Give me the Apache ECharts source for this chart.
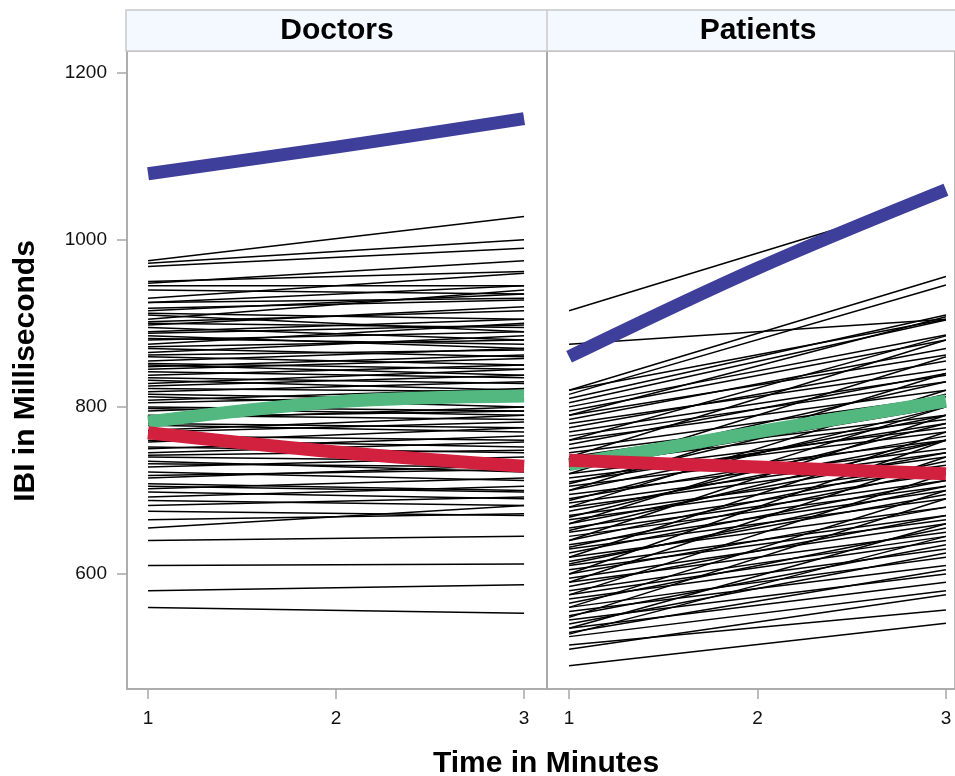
<!DOCTYPE html>
<html>
<head>
<meta charset="utf-8">
<script src="https://cdn.jsdelivr.net/npm/echarts@6/dist/echarts.min.js"></script>
<style>html,body{margin:0;padding:0;background:#fff;}#c{width:955px;height:776px;}</style>
</head>
<body>
<div id="c"></div>
<script>
// ---- Data ----
const timePoints = [1, 2, 3];
const panelNames = ['Doctors', 'Patients'];
const yTicks = [600, 800, 1000, 1200];

// Individual trajectories (IBI at minute 1 and minute 3)
const doctorsT1 = [975,972,968,950,948,945,940,930,925,918,912,905,900,898,895,890,885,880,875,870,865,860,855,850,848,842,838,832,828,822,818,812,808,800,795,790,785,778,772,765,758,752,745,740,735,728,722,715,708,702,698,692,688,682,675,665,655,640,610,580,560,
  925,915,910,902,888,882,872,862,852,845,835,825,815,805,798,788,780,770,760,750,742,732,718,705];
const doctorsT3 = [1028,1000,990,962,975,945,935,960,930,928,905,940,895,920,880,905,870,890,900,860,885,850,870,838,862,835,850,820,845,818,830,800,822,795,810,785,800,770,790,760,775,745,758,735,722,740,712,730,700,715,690,705,682,692,670,672,682,645,612,587,553,
  945,935,890,915,898,875,880,868,845,858,828,838,808,815,790,795,775,782,752,765,748,728,725,698];
const patientsT1 = [915,875,820,815,810,805,800,795,790,785,780,775,770,765,760,755,750,745,740,735,730,725,720,715,710,705,700,695,690,685,680,675,670,665,660,655,650,645,640,635,630,625,620,615,610,605,600,595,590,585,580,575,570,565,560,555,550,545,540,535,530,525,515,510,490,
  820,790,760,740,720,700,680,660,640,620,600,590,575,560,548,535,528,612,632,652,668,688,708,728];
const patientsT3 = [1053,905,956,946,910,904,886,880,862,870,845,855,838,830,820,840,812,800,805,790,785,800,775,770,780,760,790,750,765,745,740,760,730,725,745,720,712,705,735,700,690,712,680,695,670,665,680,660,650,670,645,640,630,655,620,610,635,600,625,590,605,580,557,575,541,
  905,908,885,880,860,840,820,800,790,770,760,740,720,700,690,660,645,705,725,760,780,800,815,830];

// Group trajectories (minutes 1, 2, 3)
const doctorsBlue  = [1079, 1111, 1145];
const doctorsGreen = [782, 806, 813];
const doctorsRed   = [769, 746, 729];
const patientsBlue  = [860, 966, 1060];
const patientsGreen = [731, 770, 807];
const patientsRed   = [736, 728, 720];

// ---- Build ----
const FONT = 'Liberation Sans, Arial, sans-serif';
const series = [];
function addIndividuals(t1, t3, idx) {
  for (let i = 0; i < t1.length; i++) {
    series.push({
      type: 'line', xAxisIndex: idx, yAxisIndex: idx, symbol: 'none', silent: true,
      lineStyle: { color: '#000', width: 1.5 },
      data: [[timePoints[0], t1[i]], [timePoints[2], t3[i]]]
    });
  }
}
function addGroup(vals, color, idx) {
  series.push({
    type: 'line', xAxisIndex: idx, yAxisIndex: idx, symbol: 'none', silent: true, smooth: 0.35,
    lineStyle: { color: color, width: 13, cap: 'butt' },
    data: timePoints.map((t, k) => [t, vals[k]])
  });
}
addIndividuals(doctorsT1, doctorsT3, 0);
addIndividuals(patientsT1, patientsT3, 1);
addGroup(doctorsGreen, '#52b87f', 0);
addGroup(doctorsRed, '#d2203f', 0);
addGroup(doctorsBlue, '#3d3f9a', 0);
addGroup(patientsGreen, '#52b87f', 1);
addGroup(patientsRed, '#d2203f', 1);
addGroup(patientsBlue, '#3d3f9a', 1);

const axisGray = '#a8a8a8';
function xAxis(idx, min, max) {
  return {
    type: 'value', gridIndex: idx, min: min, max: max,
    axisLine: { show: true, lineStyle: { color: axisGray, width: 1.5 } },
    axisTick: { show: true, length: 10, lineStyle: { color: axisGray, width: 1.5 }, customValues: timePoints },
    axisLabel: { fontFamily: FONT, fontSize: 19, color: '#111', margin: 20, customValues: timePoints, formatter: v => String(v) },
    splitLine: { show: false }
  };
}
function yAxis(idx, showLabels) {
  return {
    type: 'value', gridIndex: idx, min: 462.3, max: 1226,
    axisLine: { show: true, lineStyle: { color: axisGray, width: 1.5 } },
    axisTick: { show: showLabels, length: 10, lineStyle: { color: axisGray, width: 1.5 }, customValues: yTicks },
    axisLabel: { show: showLabels, fontFamily: FONT, fontSize: 19, color: '#111', margin: 20, customValues: yTicks, formatter: v => String(v) },
    splitLine: { show: false }
  };
}

const option = {
  animation: false,
  backgroundColor: '#fff',
  grid: [
    { left: 127, top: 51, width: 420, height: 638, show: true, borderColor: axisGray, borderWidth: 1.5 },
    { left: 547, top: 51, width: 408, height: 638, show: true, borderColor: axisGray, borderWidth: 1.5 }
  ],
  xAxis: [xAxis(0, 0.888, 3.122), xAxis(1, 0.883, 3.048)],
  yAxis: [yAxis(0, true), yAxis(1, false)],
  series: series,
  graphic: [
    { type: 'rect', shape: { x: 126, y: 10, width: 840, height: 41 }, style: { fill: '#f3f9fe', stroke: '#c8c8c8', lineWidth: 1.5 }, z: 10 },
    { type: 'line', shape: { x1: 547, y1: 10, x2: 547, y2: 51 }, style: { stroke: '#c8c8c8', lineWidth: 1.5 }, z: 11 },
    { type: 'text', x: 337, y: 31, style: { text: panelNames[0], font: 'bold 30px ' + FONT, fill: '#000', textAlign: 'center', textVerticalAlign: 'middle' }, z: 12 },
    { type: 'text', x: 758, y: 31, style: { text: panelNames[1], font: 'bold 30px ' + FONT, fill: '#000', textAlign: 'center', textVerticalAlign: 'middle' }, z: 12 },
    { type: 'text', x: 546, y: 764, style: { text: 'Time in Minutes', font: 'bold 30px ' + FONT, fill: '#000', textAlign: 'center', textVerticalAlign: 'middle' }, z: 12 },
    { type: 'text', x: 26, y: 371, rotation: Math.PI / 2, style: { text: 'IBI in Milliseconds', font: 'bold 30px ' + FONT, fill: '#000', textAlign: 'center', textVerticalAlign: 'middle' }, z: 12 }
  ]
};
const chart = echarts.init(document.getElementById('c'), null, { renderer: 'canvas' });
chart.setOption(option);
</script>
</body>
</html>
